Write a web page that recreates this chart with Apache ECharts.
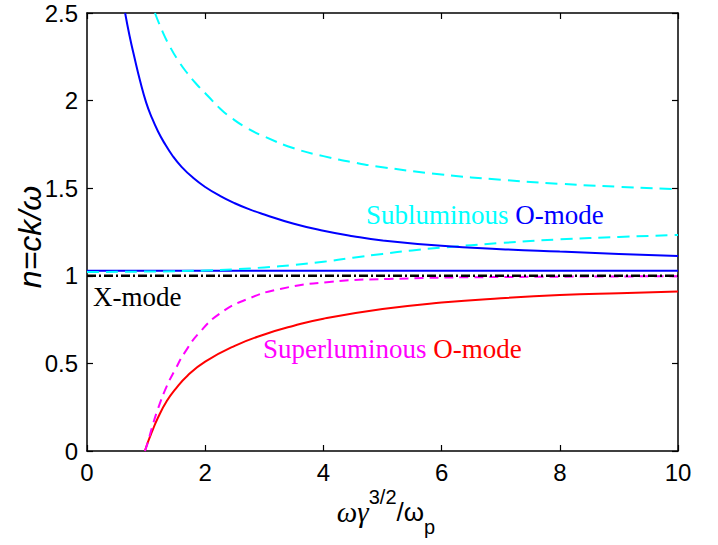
<!DOCTYPE html>
<html>
<head>
<meta charset="utf-8">
<script src="https://cdn.jsdelivr.net/npm/echarts@6/dist/echarts.min.js"></script>
<style>html,body{margin:0;padding:0;background:#fff}#c{width:718px;height:545px}</style>
</head>
<body>
<div id="c"></div>
<script>
// ---- data ----
const xTicks = [0, 2, 4, 6, 8, 10];
const yTicks = [0, 0.5, 1, 1.5, 2, 2.5];
const blueUpper = [[0.645,2.5],[0.72,2.37],[0.8,2.25],[0.9,2.11],[1.0,1.99],[1.1,1.9],[1.2,1.825],[1.3,1.763],[1.45,1.684],[1.6,1.622],[1.8,1.558],[2.0,1.507],[2.25,1.456],[2.5,1.414],[2.75,1.379],[3.0,1.35],[3.5,1.297],[4.0,1.257],[4.5,1.226],[5.0,1.202],[6.0,1.171],[7.0,1.152],[8.0,1.138],[9.0,1.125],[10,1.113]];
const cyanUpper = [[1.15,2.5],[1.27,2.4],[1.4,2.31],[1.55,2.225],[1.7,2.155],[1.85,2.095],[2.05,2.025],[2.25,1.955],[2.45,1.9],[2.7,1.845],[3.0,1.795],[3.5,1.728],[4.0,1.683],[4.5,1.648],[5.0,1.62],[6.0,1.578],[7.0,1.548],[8.0,1.525],[9.0,1.508],[10,1.494]];
const cyanLower = [[0,1.022],[1,1.024],[2,1.03],[2.5,1.037],[3.0,1.048],[3.5,1.062],[4.0,1.08],[4.5,1.103],[5.0,1.125],[5.5,1.145],[6.0,1.161],[7.0,1.187],[8.0,1.208],[9.0,1.222],[10,1.233]];
const blueFlat = [[0,1.029],[10,1.029]];
const xMode = [[0,1.0],[10,1.0]];
const magentaSuper = [[0.98,0],[1.03,0.05],[1.1,0.135],[1.2,0.24],[1.35,0.37],[1.5,0.47],[1.65,0.56],[1.9,0.675],[2.25,0.785],[2.7,0.865],[3.27,0.925],[4.1,0.965],[5.1,0.982],[7,0.993],[10,0.997]];
const redSuper = [[0.98,0],[1.03,0.05],[1.1,0.11],[1.2,0.19],[1.35,0.285],[1.5,0.355],[1.7,0.43],[2.0,0.51],[2.5,0.6],[3.0,0.665],[3.5,0.715],[4.0,0.755],[5.0,0.81],[6.0,0.847],[7.0,0.872],[8.0,0.89],[9.0,0.901],[10,0.91]];

const chart = echarts.init(document.getElementById('c'), null, {renderer: 'svg'});
const sans = 'Liberation Sans, Arial, Helvetica, sans-serif';
const serif = 'Liberation Serif, Times New Roman, serif';
const axisCommon = {
  type: 'value',
  axisLine: {show: true, onZero: false, lineStyle: {color: '#000', width: 1.5}},
  axisTick: {show: true, inside: true, length: 6, lineStyle: {color: '#000', width: 1.2}},
  splitLine: {show: false}
};
function line(data, color, type, width, z, smooth) {
  return {type: 'line', data: data, showSymbol: false, symbol: 'none', smooth: smooth, z: z,
    lineStyle: {color: color, type: type, width: width}, animation: false};
}
chart.setOption({
  animation: false,
  grid: {left: 87, right: 40, top: 13, bottom: 94, containLabel: false},
  xAxis: [
    Object.assign({}, axisCommon, {position: 'bottom', min: 0, max: 10, interval: 2,
      axisLabel: {show: true, color: '#000', fontSize: 24, fontFamily: sans, margin: 9}}),
    Object.assign({}, axisCommon, {position: 'top', min: 0, max: 10, interval: 2, axisLabel: {show: false}})
  ],
  yAxis: [
    Object.assign({}, axisCommon, {position: 'left', min: 0, max: 2.5, interval: 0.5,
      axisLabel: {show: true, color: '#000', fontSize: 24, fontFamily: sans, margin: 9,
        formatter: v => String(v)}}),
    Object.assign({}, axisCommon, {position: 'right', min: 0, max: 2.5, interval: 0.5, axisLabel: {show: false}})
  ],
  series: [
    line(redSuper, '#ff0000', 'solid', 2, 2, 0.5),
    line(magentaSuper, '#ff00ff', [9, 6], 2, 3, 0.5),
    line(xMode, '#000000', [9, 3, 2, 3], 2.6, 4, false),
    line(blueFlat, '#0000ff', 'solid', 2, 5, false),
    line(cyanLower, '#00ffff', [12, 7], 2, 6, 0.5),
    line(blueUpper, '#0000ff', 'solid', 2, 7, 0.5),
    line(cyanUpper, '#00ffff', [12, 7], 2, 8, 0.5)
  ],
  graphic: [
    {type: 'text', left: 366, top: 201, z: 100, style: {
      text: '{c|Subluminous} {b|O-mode}',
      rich: {c: {fill: '#00ffff', fontSize: 27, fontFamily: serif}, b: {fill: '#0000ff', fontSize: 27, fontFamily: serif}},
      fontSize: 27, fontFamily: serif}},
    {type: 'text', left: 263, top: 335, z: 100, style: {
      text: '{m|Superluminous} {r|O-mode}',
      rich: {m: {fill: '#ff00ff', fontSize: 27, fontFamily: serif}, r: {fill: '#ff0000', fontSize: 27, fontFamily: serif}},
      fontSize: 27, fontFamily: serif}},
    {type: 'text', left: 93, top: 283, z: 100, style: {
      text: 'X-mode', fill: '#000', fontSize: 27, fontFamily: serif}},
    {type: 'text', x: 30, y: 237, rotation: Math.PI / 2, z: 100, style: {
      text: 'n=ck/ω', fill: '#000', fontSize: 32, fontFamily: sans, fontStyle: 'italic',
      align: 'center', verticalAlign: 'middle'}},
    {type: 'text', x: 386, y: 512, z: 100, style: {
      text: '{w|ωγ}{sup|3/2}{n|/ω}{sub|p}', align: 'center', verticalAlign: 'middle',
      rich: {
        w: {fontFamily: serif, fontStyle: 'italic', fontSize: 29, fill: '#000', lineHeight: 50, verticalAlign: 'middle'},
        sup: {fontFamily: sans, fontSize: 20, fill: '#000', lineHeight: 14, verticalAlign: 'top'},
        n: {fontFamily: sans, fontSize: 26, fill: '#000', lineHeight: 50, verticalAlign: 'middle'},
        sub: {fontFamily: sans, fontSize: 20, fill: '#000', lineHeight: 20, verticalAlign: 'bottom'}
      }}}
  ]
});
</script>
</body>
</html>
